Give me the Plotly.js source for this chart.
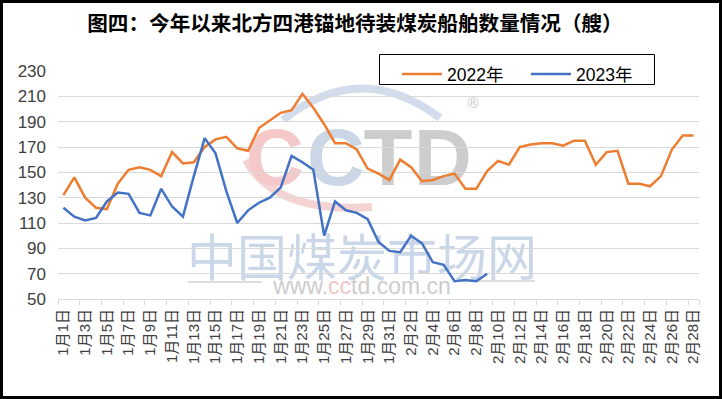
<!DOCTYPE html>
<html>
<head>
<meta charset="utf-8">
<script src="https://cdn.plot.ly/plotly-3.0.1.min.js"></script>
<style>html,body{margin:0;padding:0;background:#fff;}#chart{width:722px;height:399px;}</style>
</head>
<body>
<div id="chart"></div>
<script>
const categories = [
  "1月1日","1月2日","1月3日","1月4日","1月5日","1月6日","1月7日","1月8日","1月9日","1月10日",
  "1月11日","1月12日","1月13日","1月14日","1月15日","1月16日","1月17日","1月18日","1月19日","1月20日",
  "1月21日","1月22日","1月23日","1月24日","1月25日","1月26日","1月27日","1月28日","1月29日","1月30日",
  "1月31日","2月1日","2月2日","2月3日","2月4日","2月5日","2月6日","2月7日","2月8日","2月9日",
  "2月10日","2月11日","2月12日","2月13日","2月14日","2月15日","2月16日","2月17日","2月18日","2月19日",
  "2月20日","2月21日","2月22日","2月23日","2月24日","2月25日","2月26日","2月27日","2月28日"
];
const values2022 = [
  132,146,130,122,121,141,152,154,152,147,
  166,157,158,170,176,178,169,167,185,191,
  197,199,212,201,188,173,173,168,153,149,
  144,160,154,143,144,147,149,137,137,151,
  159,156,170,172,173,173,171,175,175,156,
  166,167,141,141,139,147,168,179,179
];
const values2023 = [
  122,115,112,114,127,134,133,118,116,137,
  123,115,147,177,165,135,110,120,126,130,
  138,163,158,152,100,127,120,118,113,95,
  88,87,100,94,79,77,64,65,64,70
];
const seriesNames = ["2022年","2023年"];
const tickLabels = categories.filter((c, i) => i % 2 === 0);
const yTicks = [50,70,90,110,130,150,170,190,210,230];
const titleText = "图四：今年以来北方四港锚地待装煤炭船舶数量情况（艘）";

const W = 722, H = 399;
const M = {l: 58, r: 23, t: 71, b: 100};
const PW = W - M.l - M.r, PH = H - M.t - M.b;
const px = x => (x - M.l) / PW;
const py = y => (H - M.b - y) / PH;

const CJK = "Liberation Sans, Noto Sans CJK SC, sans-serif";

const traces = [
  {x: categories, y: values2022, name: seriesNames[0], type: "scatter", mode: "lines",
   line: {color: "#ED7D31", width: 2.5}},
  {x: categories.slice(0, values2023.length), y: values2023, name: seriesNames[1], type: "scatter", mode: "lines",
   line: {color: "#4472C4", width: 2.5}}
];

function labelBox(cx, cy, text, size, color, weight) {
  return {type: "rect", xref: "paper", yref: "paper", layer: "between",
    x0: px(cx - 5), x1: px(cx + 5), y0: py(cy + 5), y1: py(cy - 5),
    line: {width: 0}, fillcolor: "rgba(0,0,0,0)",
    label: {text: text, textposition: "middle center",
      font: {size: size, color: color, family: CJK, weight: weight || "normal"}}};
}
function pathPx(pts) {
  return pts.map(p => (typeof p === "string") ? p : (px(p[0]) + "," + py(p[1]))).join(" ");
}

const shapes = [
  {type: "path", xref: "paper", yref: "paper", layer: "between",
   path: pathPx(["M", [283, 120], "Q", [360, 58], [440, 118]]),
   line: {color: "#d3dcea", width: 8}},
  {type: "path", xref: "paper", yref: "paper", layer: "between",
   path: pathPx(["M", [246, 160], "Q", [275, 214], [372, 207]]),
   line: {color: "#f6d3d3", width: 8}},
  labelBox(275, 149, "C", 80, "#f5c9c9", "bold"),
  labelBox(336, 149, "C", 80, "#cbd6e6", "bold"),
  labelBox(388, 149, "T", 80, "#cdcdcd", "bold"),
  labelBox(443, 149, "D", 80, "#cdcdcd", "bold"),
  labelBox(473, 101, "®", 15, "#c8c8c8"),
  labelBox(362, 254, "中国煤炭市场网", 50, "#c9d7e8"),
  labelBox(362, 284, "www.<span style='color:#f2c6c6'>cc</span>td.com.cn", 23, "#cdcdcd"),
  {type: "line", xref: "paper", yref: "paper", layer: "between",
   x0: px(188), x1: px(262), y0: py(282), y1: py(282), line: {color: "#dedede", width: 2}},
  {type: "line", xref: "paper", yref: "paper", layer: "between",
   x0: px(458), x1: px(535), y0: py(281), y1: py(281), line: {color: "#dedede", width: 2}},
  {type: "rect", xref: "paper", yref: "paper", layer: "above",
   x0: px(379.5), x1: px(654.5), y0: py(84.5), y1: py(54.5),
   line: {color: "#000", width: 1}, fillcolor: "#fff"},
  {type: "rect", xref: "paper", yref: "paper", layer: "above",
   x0: px(1.5), x1: px(720.5), y0: py(397.5), y1: py(1.5),
   line: {color: "#000", width: 3}, fillcolor: "rgba(0,0,0,0)"}
];

const layout = {
  width: W, height: H, margin: M,
  paper_bgcolor: "#fff", plot_bgcolor: "#fff",
  showlegend: true,
  title: {text: titleText, x: 355 / W, xanchor: "center", xref: "container",
          y: 1 - 24 / H, yanchor: "middle", yref: "container",
          font: {family: "Noto Sans CJK SC, sans-serif", size: 20.6, color: "#000", weight: "bold"}},
  xaxis: {type: "category", categoryorder: "array", categoryarray: categories,
          range: [-0.5, categories.length - 0.5],
          tickmode: "array", tickvals: tickLabels, ticktext: tickLabels,
          tickson: "boundaries", ticks: "outside", ticklen: 5, tickcolor: "#d9d9d9",
          showgrid: false, showline: true, linecolor: "#d9d9d9", linewidth: 1,
          tickangle: -90, ticklabelstandoff: 3,
          tickfont: {family: CJK, size: 15, color: "#404040"},
          zeroline: false, fixedrange: true},
  yaxis: {range: [50, 230], tickmode: "array", tickvals: yTicks,
          showgrid: true, gridcolor: "#d9d9d9", gridwidth: 1, zeroline: false,
          showline: false, ticks: "", ticklabelstandoff: 11,
          tickfont: {family: CJK, size: 17, color: "#404040"}, fixedrange: true},
  legend: {orientation: "h", x: px(397), xanchor: "left", y: py(56), yanchor: "top",
           borderwidth: 0, bgcolor: "rgba(0,0,0,0)",
           font: {family: CJK, size: 17.5, color: "#000"},
           itemwidth: 40, entrywidth: 74, entrywidthmode: "pixels"},
  shapes: shapes
};

Plotly.newPlot("chart", traces, layout, {staticPlot: true, displayModeBar: false});
</script>
</body>
</html>
